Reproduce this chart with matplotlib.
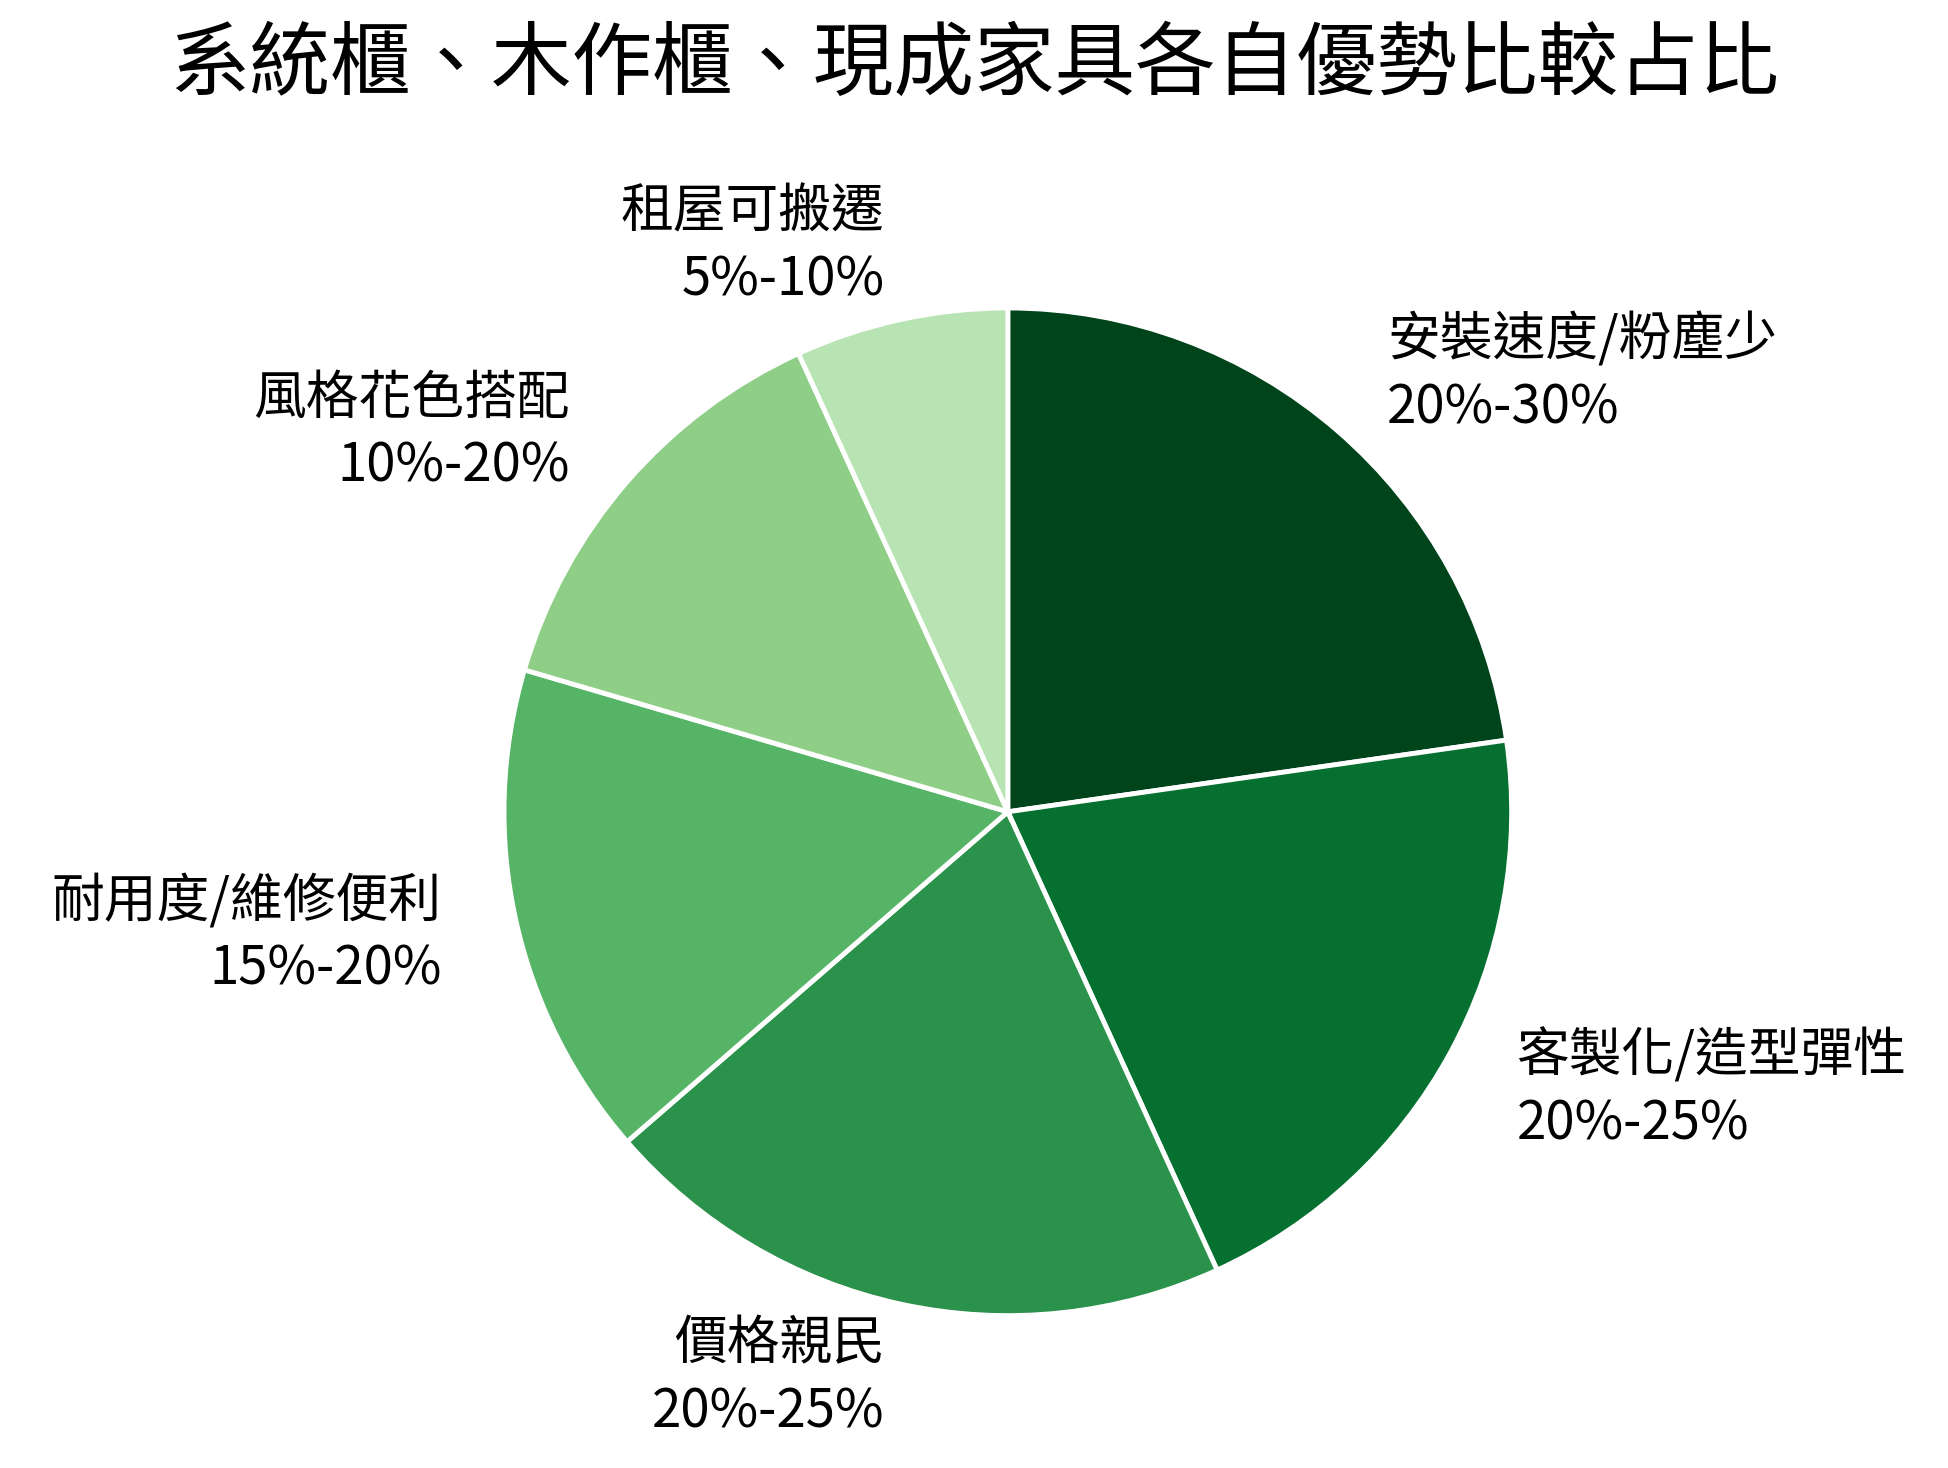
import matplotlib
matplotlib.use("Agg")
import matplotlib.pyplot as plt

plt.rcParams['font.family'] = ['Noto Sans CJK TC', 'DejaVu Sans']

labels = ["安裝速度/粉塵少\n20%-30%", "客製化/造型彈性\n20%-25%", "價格親民\n20%-25%",
          "耐用度/維修便利\n15%-20%", "風格花色搭配\n10%-20%", "租屋可搬遷\n5%-10%"]
values = [25, 22.5, 22.5, 17.5, 15, 7.5]
colors = ["#00441b", "#067030", "#2b924b", "#56b467", "#8ece87", "#b8e3b2"]

fig = plt.figure(figsize=(19.49, 14.68), dpi=100)
ax = fig.add_axes([0.2586, 0.1035, 0.517, 0.687])
wedges, texts = ax.pie(values, labels=labels, colors=colors, startangle=90, counterclock=False,
                       labeldistance=1.15, wedgeprops=dict(edgecolor='white', linewidth=3.5),
                       textprops=dict(fontsize=38, linespacing=1.3))
ax.set_xlim(-1, 1); ax.set_ylim(-1, 1)
fig.text(0.5, 0.955, "系統櫃、木作櫃、現成家具各自優勢比較占比", ha='center', va='center', fontsize=58)
fig.savefig("out.png", dpi=100, facecolor='white')
